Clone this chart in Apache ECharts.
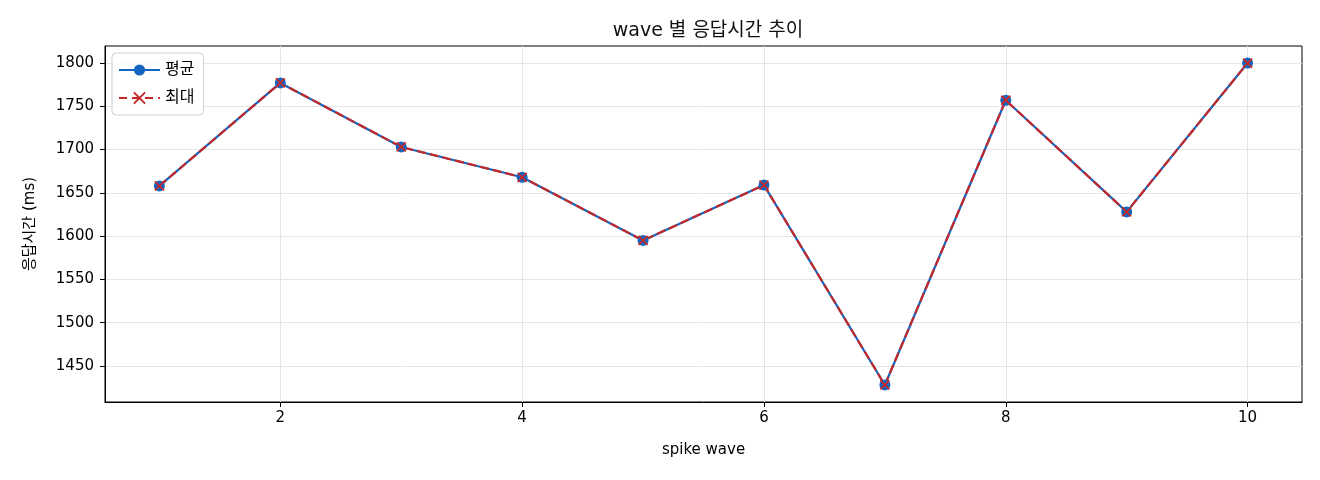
<!DOCTYPE html>
<html lang="ko">
<head>
<meta charset="UTF-8">
<title>wave 별 응답시간 추이</title>
<script src="https://cdn.jsdelivr.net/npm/echarts@6/dist/echarts.min.js"></script>
<style>
  html, body { margin: 0; padding: 0; background: #fff; }
  #chart { width: 1320px; height: 480px; }
</style>
</head>
<body>
<div id="chart"></div>
<script>
  // wave 번호와 응답시간 (ms)
  var waves = [1, 2, 3, 4, 5, 6, 7, 8, 9, 10]
  var avgMs = [1658, 1777, 1703, 1668, 1595, 1659, 1428, 1757, 1628, 1800]
  var maxMs = [1658, 1777, 1703, 1668, 1595, 1659, 1428, 1757, 1628, 1800]
  var xTicks = [2, 4, 6, 8, 10]
  var yTicks = [1450, 1500, 1550, 1600, 1650, 1700, 1750, 1800]

  var font = "'DejaVu Sans', 'Noto Sans CJK KR', sans-serif"
  var chart = echarts.init(document.getElementById('chart'))

  function pairs(ys) {
    return waves.map(function (w, i) { return [w, ys[i]] })
  }

  var option = {
    animation: false,
    textStyle: { fontFamily: font },
    title: {
      text: 'wave 별 응답시간 추이',
      left: 703,
      top: 17,
      textAlign: 'center',
      textStyle: { fontFamily: font, fontSize: 19, fontWeight: 'normal', color: '#111' }
    },
    legend: {
      orient: 'vertical',
      left: 112,
      top: 53,
      padding: [9, 9, 9, 6],
      itemGap: 12,
      itemWidth: 41,
      itemHeight: 14,
      borderColor: '#d0d0d0',
      borderWidth: 1,
      borderRadius: 4,
      backgroundColor: 'rgba(255,255,255,0.8)',
      textStyle: { fontFamily: font, fontSize: 16, color: '#000' },
      data: [
        { name: '평균' },
        { name: '최대', lineStyle: { type: [8, 5] } }
      ]
    },
    grid: {
      left: 105, right: 18, top: 46, bottom: 78,
      show: true, borderColor: '#000', borderWidth: 1
    },
    xAxis: {
      type: 'value',
      min: 0.55,
      max: 10.45,
      name: 'spike wave',
      nameLocation: 'middle',
      nameGap: 41,
      nameTextStyle: { fontFamily: font, fontSize: 15, color: '#000' },
      axisLine: { show: true, onZero: false, lineStyle: { color: '#000' } },
      axisTick: { show: true, length: 5, customValues: xTicks, lineStyle: { color: '#000' } },
      axisLabel: { customValues: xTicks, fontSize: 15, color: '#000', margin: 9 },
      splitLine: { show: true, customValues: xTicks, lineStyle: { color: '#e5e5e5' } }
    },
    yAxis: {
      type: 'value',
      min: 1408.3,
      max: 1819.7,
      name: '응답시간 (ms)',
      nameLocation: 'middle',
      nameGap: 67,
      nameRotate: 90,
      nameTextStyle: { fontFamily: font, fontSize: 15, color: '#000' },
      axisLine: { show: true, onZero: false, lineStyle: { color: '#000' } },
      axisTick: { show: true, length: 5, customValues: yTicks, lineStyle: { color: '#000' } },
      axisLabel: {
        customValues: yTicks, fontSize: 15, color: '#000', margin: 11,
        formatter: function (v) { return String(v) }
      },
      splitLine: { show: true, customValues: yTicks, lineStyle: { color: '#e5e5e5' } }
    },
    series: [
      {
        name: '평균',
        type: 'line',
        data: pairs(avgMs),
        symbol: 'circle',
        symbolSize: 11,
        lineStyle: { color: '#1565C0', width: 2.2 },
        itemStyle: { color: '#1565C0' }
      },
      {
        name: '최대',
        type: 'line',
        data: pairs(maxMs),
        symbol: 'path://M0,0L10,10M10,0L0,10',
        symbolSize: 9,
        lineStyle: { color: '#C62828', width: 2.2, type: [9, 4] },
        itemStyle: { color: '#C62828', borderColor: '#C62828', borderWidth: 1.8 }
      }
    ]
  }

  chart.setOption(option)
</script>
</body>
</html>
